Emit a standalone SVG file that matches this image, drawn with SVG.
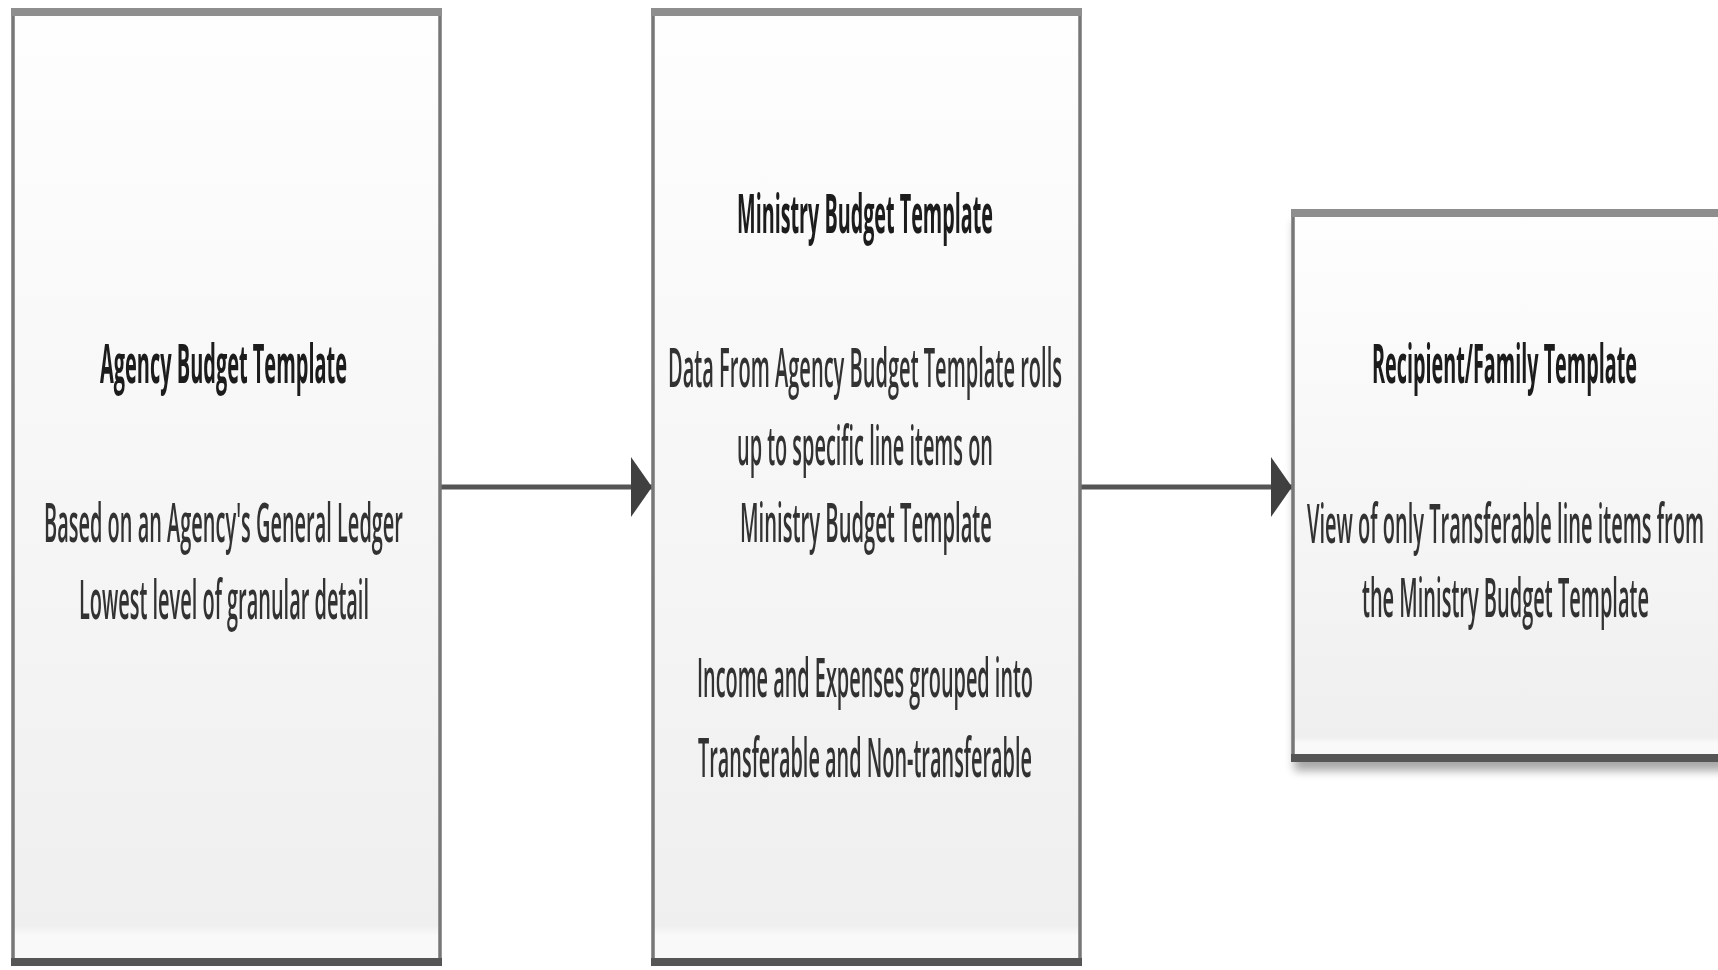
<svg xmlns="http://www.w3.org/2000/svg" width="1718" height="970" viewBox="0 0 1718 970">
<defs>
<linearGradient id="fillGrad" x1="0" y1="0" x2="0" y2="1">
<stop offset="0" stop-color="#fefefe"/>
<stop offset="0.96" stop-color="#efefef"/>
<stop offset="0.97" stop-color="#f9f9f9"/>
<stop offset="1" stop-color="#f9f9f9"/>
</linearGradient>
<filter id="shadow" x="-5%" y="-5%" width="110%" height="115%">
<feGaussianBlur in="SourceAlpha" stdDeviation="5"/>
<feOffset dx="3" dy="10"/>
<feComponentTransfer><feFuncA type="linear" slope="0.35"/></feComponentTransfer>
<feMerge><feMergeNode/><feMergeNode in="SourceGraphic"/></feMerge>
</filter>
<filter id="soft"><feGaussianBlur stdDeviation="0.6"/></filter>
<marker id="arrow" markerUnits="userSpaceOnUse" markerWidth="22" markerHeight="60" refX="21" refY="30" orient="auto">
<path d="M0,0 L21,30 L0,60 Z" fill="#404040"/>
</marker>
</defs>
<style>
.box{fill:url(#fillGrad);stroke:#777;stroke-width:3.5}
.topb{stroke:#8e8e8e;stroke-width:8;fill:none}
.botb{stroke:#555;stroke-width:8;fill:none}
.title{font-family:"Open Sans","Liberation Sans",sans-serif;font-weight:bold;font-size:20px;fill:#1a1a1a;text-anchor:start}
.body{font-family:"Open Sans","Liberation Sans",sans-serif;font-weight:600;font-size:20px;fill:#333;text-anchor:start}
.conn{stroke:#555;stroke-width:5;fill:none}
</style>
<g id="connectors">
<line class="conn" x1="440" y1="487" x2="652" y2="487" marker-end="url(#arrow)"/>
<line class="conn" x1="1080" y1="487" x2="1292" y2="487" marker-end="url(#arrow)"/>
</g>
<g id="node-agency">
<rect class="box" x="13" y="11" width="427" height="953"/>
<line class="topb" x1="11" y1="12" x2="442" y2="12"/>
<line class="botb" x1="11" y1="962" x2="442" y2="962"/>
<g filter="url(#soft)">
<text class="title" transform="translate(0,383) scale(1,2.7)" x="100" y="0" textLength="247" lengthAdjust="spacingAndGlyphs">Agency Budget Template</text>
<text class="body" transform="translate(0,542) scale(1,2.7)" x="44" y="0" textLength="359" lengthAdjust="spacingAndGlyphs">Based on an Agency's General Ledger</text>
<text class="body" transform="translate(0,619) scale(1,2.7)" x="79" y="0" textLength="290" lengthAdjust="spacingAndGlyphs">Lowest level of granular detail</text>
</g>
</g>
<g id="node-ministry">
<rect class="box" x="653" y="11" width="427" height="953"/>
<line class="topb" x1="651" y1="12" x2="1082" y2="12"/>
<line class="botb" x1="651" y1="962" x2="1082" y2="962"/>
<g filter="url(#soft)">
<text class="title" transform="translate(0,233) scale(1,2.7)" x="737" y="0" textLength="256" lengthAdjust="spacingAndGlyphs">Ministry Budget Template</text>
<text class="body" transform="translate(0,387) scale(1,2.7)" x="668" y="0" textLength="394" lengthAdjust="spacingAndGlyphs">Data From Agency Budget Template rolls</text>
<text class="body" transform="translate(0,465) scale(1,2.7)" x="737" y="0" textLength="256" lengthAdjust="spacingAndGlyphs">up to specific line items on</text>
<text class="body" transform="translate(0,542) scale(1,2.7)" x="740" y="0" textLength="252" lengthAdjust="spacingAndGlyphs">Ministry Budget Template</text>
<text class="body" transform="translate(0,697) scale(1,2.7)" x="697" y="0" textLength="336" lengthAdjust="spacingAndGlyphs">Income and Expenses grouped into</text>
<text class="body" transform="translate(0,777) scale(1,2.7)" x="698" y="0" textLength="334" lengthAdjust="spacingAndGlyphs">Transferable and Non-transferable</text>
</g>
</g>
<g id="node-recipient">
<g filter="url(#shadow)">
<rect class="box" x="1293" y="213" width="430" height="546"/>
</g>
<line class="topb" x1="1291" y1="213" x2="1725" y2="213"/>
<line class="botb" x1="1291" y1="758" x2="1725" y2="758"/>
<g filter="url(#soft)">
<text class="title" transform="translate(0,383) scale(1,2.7)" x="1372" y="0" textLength="265" lengthAdjust="spacingAndGlyphs">Recipient/Family Template</text>
<text class="body" transform="translate(0,543) scale(1,2.7)" x="1307" y="0" textLength="397" lengthAdjust="spacingAndGlyphs">View of only Transferable line items from</text>
<text class="body" transform="translate(0,617) scale(1,2.7)" x="1362" y="0" textLength="287" lengthAdjust="spacingAndGlyphs">the Ministry Budget Template</text>
</g>
</g>
</svg>
